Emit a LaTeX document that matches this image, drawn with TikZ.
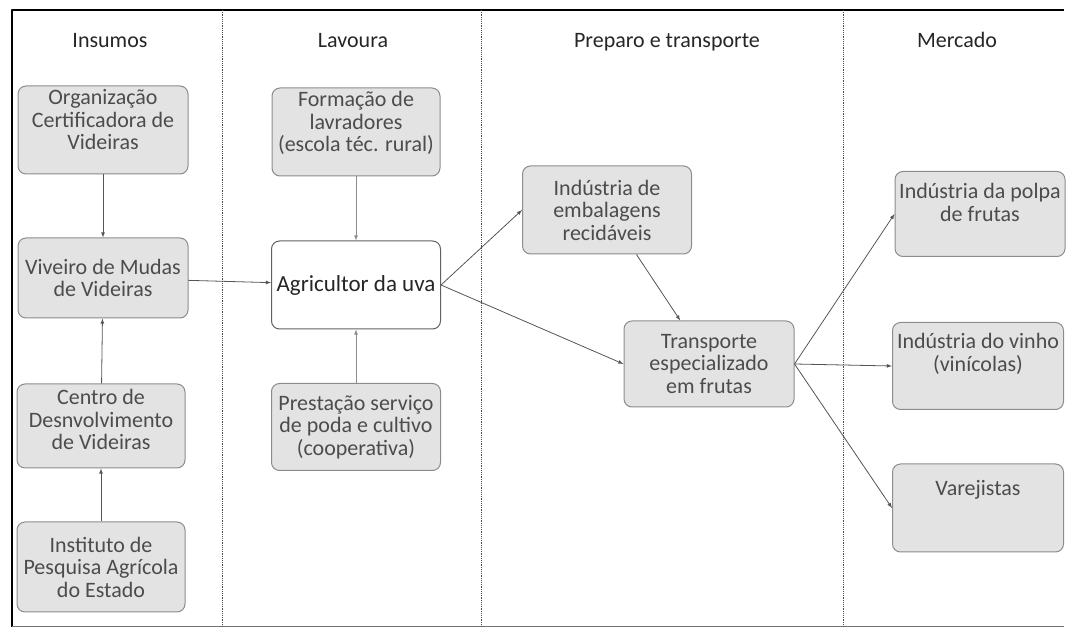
\documentclass[tikz,border=0pt]{standalone}
\usepackage{fontspec}
\setmainfont{Carlito}
\usetikzlibrary{arrows}
\definecolor{boxfill}{rgb}{0.89,0.89,0.89}
\definecolor{boxdraw}{rgb}{0.55,0.55,0.55}
\definecolor{boxtext}{rgb}{0.30,0.30,0.30}
\definecolor{edgecol}{rgb}{0.33,0.33,0.33}
\tikzset{
  actor/.style={draw=boxdraw, fill=boxfill, rounded corners=8bp, line width=1bp,
    minimum width=170bp, minimum height=86bp, inner sep=2bp, align=center,
    text=boxtext, font=\fontsize{22bp}{22.5bp}\selectfont},
  mainactor/.style={actor, fill=white, draw=boxdraw!70!black,
    text=black!85, font=\fontsize{23bp}{25bp}\selectfont},
  raised/.style={text depth=#1},
  colhead/.style={anchor=base, text=black!85, font=\fontsize{22bp}{24bp}\selectfont},
  flow/.style={->, draw=edgecol, line width=0.8bp},
  divider/.style={draw=black!70, line width=0.9bp, dash pattern=on 1.2bp off 1bp},
}
\begin{document}
\begin{tikzpicture}[>=latex,line join=bevel,]
\useasboundingbox (0bp,0bp) rectangle (1066bp,639bp);
%% frame and columns
  \draw [line width=1.2bp] (1064bp,629bp) -- (12bp,629bp) -- (12bp,12bp);
  \draw [line width=1bp, black!55] (12bp,12bp) -- (1064bp,12bp);
  \draw [divider] (222bp,629bp) -- (222bp,12bp);
  \draw [divider] (481bp,629bp) -- (481bp,12bp);
  \draw [divider] (843bp,629bp) -- (843bp,12bp);
  \node [colhead] (h_ins) at (110bp,591bp) {Insumos};
  \node [colhead] (h_lav) at (353bp,591bp) {Lavoura};
  \node [colhead] (h_prep) at (667bp,591bp) {Preparo e transporte};
  \node [colhead] (h_merc) at (957bp,591bp) {Mercado};
%%
  % Node: org
  \node [actor, raised=21bp, minimum height=88bp] (org) at (103bp,509bp) {Organização\\Certificadora de\\Videiras};
  % Node: viv
  \node [actor, minimum height=80bp] (viv) at (103bp,361bp) {Viveiro de Mudas\\de Videiras};
  % Node: centro
  \node [actor, raised=13bp, minimum width=168bp, minimum height=84bp] (centro) at (101bp,213bp) {Centro de\\Desnvolvimento\\de Videiras};
  % Node: inst
  \node [actor, minimum width=168bp, minimum height=90bp] (inst) at (101bp,72bp) {Instituto de\\Pesquisa Agrícola\\do Estado};
  % Node: form
  \node [actor, raised=21bp, minimum width=168bp, minimum height=88bp] (form) at (356bp,507bp) {Formação de\\lavradores\\(escola téc. rural)};
  % Node: agric
  \node [mainactor, minimum width=169bp, minimum height=88bp] (agric) at (356bp,354bp) {Agricultor da uva};
  % Node: prest
  \node [actor, minimum width=169bp, minimum height=87bp] (prest) at (356bp,212bp) {Prestação serviço\\de poda e cultivo\\(cooperativa)};
  % Node: embal
  \node [actor, minimum width=169bp, minimum height=88bp] (embal) at (607bp,429bp) {Indústria de\\embalagens\\recidáveis};
  % Node: transp
  \node [actor, minimum height=86bp] (transp) at (709bp,275bp) {Transporte\\especializado\\em frutas};
  % Node: polpa
  \node [actor, raised=23bp, minimum height=85bp] (polpa) at (980bp,425bp) {Indústria da polpa\\de frutas};
  % Node: vinho
  \node [actor, raised=27bp, minimum width=171bp, minimum height=87bp] (vinho) at (978bp,273bp) {Indústria do vinho\\(vinícolas)};
  % Node: varej
  \node [actor, raised=40bp, minimum width=171bp, minimum height=88bp] (varej) at (978bp,131bp) {Varejistas};
%%
  % Edge: org -> viv
  \draw [flow] (org) -- (viv);
  % Edge: centro -> viv
  \draw [flow] (centro) -- (viv);
  % Edge: inst -> centro
  \draw [flow] (inst) -- (centro);
  % Edge: viv -> agric
  \draw [flow] (viv) -- (agric);
  % Edge: form -> agric
  \draw [flow, draw=boxdraw] (form) -- (agric);
  % Edge: prest -> agric
  \draw [flow, draw=boxdraw] (prest) -- (agric);
  % Edge: agric -> embal
  \draw [flow] (agric.east) -- (embal.west);
  % Edge: agric -> transp
  \draw [flow] (agric.east) -- (transp.west);
  % Edge: embal -> transp
  \draw [flow] (embal) -- (transp);
  % Edge: transp -> polpa
  \draw [flow] (transp.east) -- (polpa.west);
  % Edge: transp -> vinho
  \draw [flow] (transp.east) -- (vinho.west);
  % Edge: transp -> varej
  \draw [flow] (transp.east) -- (varej.west);
%
\end{tikzpicture}
\end{document}
